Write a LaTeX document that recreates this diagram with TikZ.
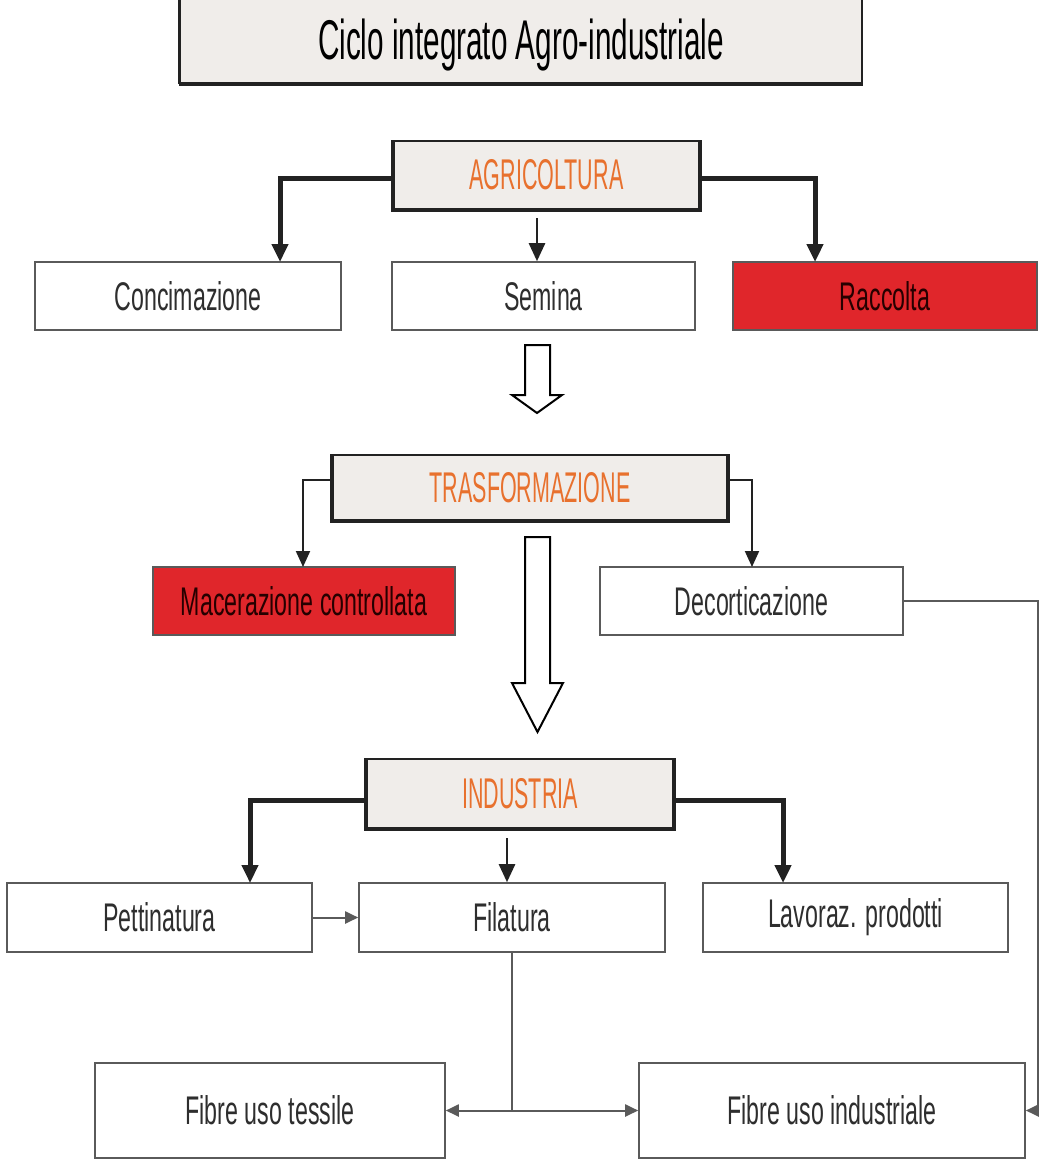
\documentclass[tikz,border=0pt]{standalone}
\usepackage{fontspec}
\setmainfont{Liberation Sans}
\newfontfamily\bodyf{Liberation Sans}[FakeStretch=0.58]
\newfontfamily\headf{Liberation Sans}[FakeStretch=0.5]
\newfontfamily\titlef{Liberation Sans}[FakeStretch=0.53]
\usetikzlibrary{arrows.meta}
\definecolor{hdrfill}{HTML}{F0EDEA}
\definecolor{redfill}{HTML}{E0262B}
\definecolor{orangetxt}{HTML}{E8712E}
\definecolor{boxline}{HTML}{5A5A5A}
\definecolor{txt}{HTML}{2E2E2E}
\definecolor{darkline}{HTML}{222222}
\tikzset{
  plainbox/.style={draw=boxline, line width=1.6pt, fill=white, inner sep=0pt,
    text=txt, font=\bodyf\fontsize{40}{44}\selectfont},
  redbox/.style={plainbox, fill=redfill, text=black!85!red},
  hdrbox/.style={draw=darkline, line width=2pt, fill=hdrfill, inner sep=0pt,
    text=orangetxt, font=\headf\fontsize{43}{46}\selectfont},
  thickconn/.style={draw=darkline, line width=5pt, -{Triangle[width=16pt,length=18pt]}},
  thinconn/.style={draw=darkline, line width=2pt, -{Triangle[width=14pt,length=16pt]}},
  smallconn/.style={draw=boxline, line width=2pt, -{Triangle[width=12pt,length=13pt]}},
  hollow/.style={draw=black, line width=2pt, fill=white, line join=miter},
}
\begin{document}
\begin{tikzpicture}[x=1pt,y=-1pt]
\useasboundingbox[fill=white] (0,0) rectangle (1041,1163);
% title
\node[draw=darkline, line width=2pt, fill=hdrfill, inner sep=0pt,
  minimum width=682pt, minimum height=92pt, text=black,
  font=\titlef\fontsize{56}{60}\selectfont] (title) at (521,37) {\raisebox{-22pt}[0pt][0pt]{Ciclo integrato Agro-industriale}};
\draw[darkline, line width=4pt] (title.south west) -- (title.south east);
\draw[darkline, line width=3pt] (title.north west) -- (title.south west);
% agricoltura
\node[hdrbox, minimum width=305pt, minimum height=68pt] (agri) at (546.5,175) {AGRICOLTURA};
\draw[darkline, line width=3.5pt] (agri.north west) -- (agri.south west) -- (agri.south east) -- (agri.north east);
\node[plainbox, minimum width=306pt, minimum height=68pt] (concim) at (188,296) {Concimazione};
\node[plainbox, minimum width=303pt, minimum height=68pt] (semina) at (543.5,296) {Semina};
\node[redbox, minimum width=304pt, minimum height=68pt] (racc) at (885,296) {Raccolta};
\coordinate (a1) at (280,262);
\coordinate (a2) at (815,262);
\draw[thickconn] (agri.west |- 0,178) -| (a1);
\draw[thickconn] (agri.east |- 0,178) -| (a2);
\draw[thickconn, line width=2.5pt] (537,218) -- (semina.north -| 537,0);
% hollow arrow 1
\draw[hollow] (525,345) -- (550,345) -- (550,395) -- (562,395) -- (537,413) -- (512,395) -- (525,395) -- cycle;
% trasformazione
\node[hdrbox, minimum width=394pt, minimum height=65pt] (trasf) at (530,487.5) {TRASFORMAZIONE};
\draw[darkline, line width=3.5pt] (trasf.north west) -- (trasf.south west) -- (trasf.south east) -- (trasf.north east);
\node[redbox, minimum width=302pt, minimum height=68pt] (macer) at (304,601) {Macerazione controllata};
\node[plainbox, minimum width=303pt, minimum height=68pt] (decort) at (751.5,601) {Decorticazione};
\coordinate (t1) at (303,567);
\coordinate (t2) at (752,567);
\draw[thinconn] (trasf.west |- 0,480) -| (t1);
\draw[thinconn] (trasf.east |- 0,480) -| (t2);
% hollow arrow 2
\draw[hollow] (525,537) -- (550,537) -- (550,683) -- (563,683) -- (537.5,732) -- (512,683) -- (525,683) -- cycle;
% industria
\node[hdrbox, minimum width=306pt, minimum height=69pt] (ind) at (520,793.5) {INDUSTRIA};
\draw[darkline, line width=3.5pt] (ind.north west) -- (ind.south west) -- (ind.south east) -- (ind.north east);
\node[plainbox, minimum width=305pt, minimum height=69pt] (pett) at (159.5,917.5) {Pettinatura};
\node[plainbox, minimum width=306pt, minimum height=69pt] (fil) at (512,917.5) {Filatura};
\node[plainbox, minimum width=305pt, minimum height=69pt] (lav) at (855.5,917.5) {Lavoraz. prodotti};
\coordinate (i1) at (250,883);
\coordinate (i2) at (783,883);
\draw[thickconn] (ind.west |- 0,800) -| (i1);
\draw[thickconn] (ind.east |- 0,800) -| (i2);
\draw[thickconn, line width=2.5pt] (507,838) -- (fil.north -| 507,0);
\draw[smallconn] (pett.east) -- (fil.west);
% fibre
\node[plainbox, minimum width=350pt, minimum height=95pt] (fibtes) at (270,1110.5) {Fibre uso tessile};
\node[plainbox, minimum width=386pt, minimum height=95pt] (fibind) at (832,1110.5) {Fibre uso industriale};
\draw[smallconn] (fil.south) |- (fibtes.east);
\draw[smallconn] (fil.south) |- (fibind.west);
\coordinate (d1) at (1038,601);
\draw[smallconn] (decort.east) -- (d1) |- (fibind.east);
\end{tikzpicture}
\end{document}
